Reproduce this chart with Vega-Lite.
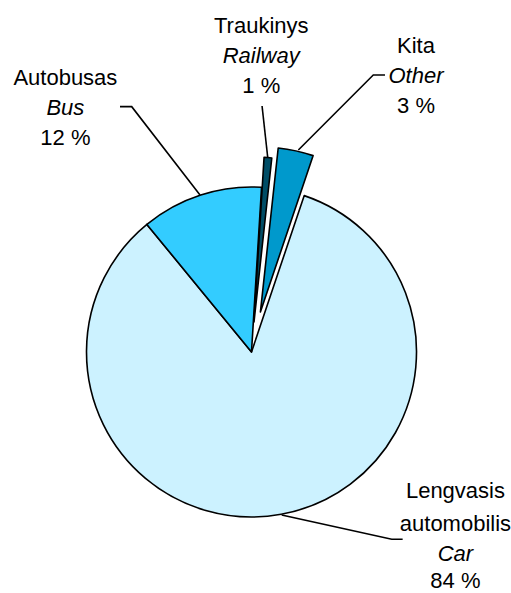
{
  "$schema": "https://vega.github.io/schema/vega-lite/v6.json",
  "width": 503,
  "height": 482,
  "padding": {"left": 0, "top": 111, "right": 8, "bottom": 0},
  "autosize": {"type": "none"},
  "background": "white",
  "config": {"view": {"stroke": null}},
  "datasets": {
    "shares": [
      {"order": 1, "category": "Railway", "share": 0.75},
      {"order": 2, "category": "Other", "share": 3.45},
      {"order": 3, "category": "Car", "share": 83.9},
      {"order": 4, "category": "Bus", "share": 11.9}
    ],
    "labels": [
      {"category": "Railway", "ltTop": "", "lt": "Traukinys", "en": "Railway", "pct": "1 %", "lx": 0.059, "ly": 1.792},
      {"category": "Other", "ltTop": "", "lt": "Kita", "en": "Other", "pct": "3 %", "lx": 0.997, "ly": 1.671},
      {"category": "Bus", "ltTop": "", "lt": "Autobusas", "en": "Bus", "pct": "12 %", "lx": -1.128, "ly": 1.477},
      {"category": "Car", "ltTop": "Lengvasis", "lt": "automobilis", "en": "Car", "pct": "84 %", "lx": 1.236, "ly": -1.227}
    ],
    "leaders": [
      {"category": "Railway", "step": 1, "ux": 0.064, "uy": 1.491},
      {"category": "Railway", "step": 2, "ux": 0.098, "uy": 1.182},
      {"category": "Other", "step": 1, "ux": 0.809, "uy": 1.679},
      {"category": "Other", "step": 2, "ux": 0.738, "uy": 1.679},
      {"category": "Other", "step": 3, "ux": 0.284, "uy": 1.224},
      {"category": "Bus", "step": 1, "ux": -0.797, "uy": 1.487},
      {"category": "Bus", "step": 2, "ux": -0.726, "uy": 1.487},
      {"category": "Bus", "step": 3, "ux": -0.312, "uy": 0.952},
      {"category": "Car", "step": 1, "ux": 0.916, "uy": -1.135},
      {"category": "Car", "step": 2, "ux": 0.850, "uy": -1.135},
      {"category": "Car", "step": 3, "ux": 0.183, "uy": -0.988}
    ]
  },
  "layer": [
    {
      "data": {"name": "shares"},
      "mark": {"type": "arc", "outerRadius": 165, "stroke": "black", "strokeWidth": 1.6, "strokeJoin": "round"},
      "encoding": {
        "theta": {"field": "share", "type": "quantitative", "stack": true, "scale": {"range": [0.061, 6.3442]}},
        "order": {"field": "order", "type": "quantitative"},
        "color": {"field": "category", "type": "nominal", "legend": null,
          "scale": {"domain": ["Railway", "Other", "Car", "Bus"], "range": ["#004D66", "#0099CC", "#CCF2FF", "#33CCFF"]}},
        "fillOpacity": {"condition": {"test": "datum.category === 'Railway' || datum.category === 'Other'", "value": 0}, "value": 1},
        "strokeOpacity": {"condition": {"test": "datum.category === 'Railway' || datum.category === 'Other'", "value": 0}, "value": 1}
      }
    },
    {
      "data": {"name": "shares"},
      "mark": {"type": "arc", "outerRadius": 165, "stroke": "black", "strokeWidth": 1.6, "strokeJoin": "round", "xOffset": 8.9, "yOffset": -40},
      "encoding": {
        "theta": {"field": "share", "type": "quantitative", "stack": true, "scale": {"range": [0.061, 6.3442]}},
        "order": {"field": "order", "type": "quantitative"},
        "color": {"field": "category", "type": "nominal", "legend": null,
          "scale": {"domain": ["Railway", "Other", "Car", "Bus"], "range": ["#004D66", "#0099CC", "#CCF2FF", "#33CCFF"]}},
        "fillOpacity": {"condition": {"test": "datum.category === 'Other'", "value": 1}, "value": 0},
        "strokeOpacity": {"condition": {"test": "datum.category === 'Other'", "value": 1}, "value": 0}
      }
    },
    {
      "data": {"name": "shares"},
      "mark": {"type": "arc", "outerRadius": 165, "stroke": "black", "strokeWidth": 1.6, "strokeJoin": "round", "xOffset": 2.5, "yOffset": -30},
      "encoding": {
        "theta": {"field": "share", "type": "quantitative", "stack": true, "scale": {"range": [0.061, 6.3442]}},
        "order": {"field": "order", "type": "quantitative"},
        "color": {"field": "category", "type": "nominal", "legend": null,
          "scale": {"domain": ["Railway", "Other", "Car", "Bus"], "range": ["#004D66", "#0099CC", "#CCF2FF", "#33CCFF"]}},
        "fillOpacity": {"condition": {"test": "datum.category === 'Railway'", "value": 1}, "value": 0},
        "strokeOpacity": {"condition": {"test": "datum.category === 'Railway'", "value": 1}, "value": 0}
      }
    },
    {
      "data": {"name": "leaders"},
      "mark": {"type": "line", "color": "black", "strokeWidth": 1.6},
      "encoding": {
        "x": {"field": "ux", "type": "quantitative", "scale": {"domain": [-1.5242, 1.5242]}, "axis": null},
        "y": {"field": "uy", "type": "quantitative", "scale": {"domain": [-1.4606, 1.4606]}, "axis": null},
        "detail": {"field": "category"},
        "order": {"field": "step", "type": "quantitative"}
      }
    },
    {
      "data": {"name": "labels"},
      "mark": {"type": "text", "font": "Liberation Sans", "baseline": "middle", "dy": -63, "color": "black"},
      "encoding": {
        "x": {"field": "lx", "type": "quantitative", "scale": {"domain": [-1.5242, 1.5242]}, "axis": null},
        "y": {"field": "ly", "type": "quantitative", "scale": {"domain": [-1.4606, 1.4606]}, "axis": null},
        "size": {"field": "category", "type": "nominal", "legend": null, "scale": {"domain": ["Railway", "Other", "Bus", "Car"], "range": [22, 22, 22, 20]}},
        "text": {"field": "ltTop"}
      }
    },
    {
      "data": {"name": "labels"},
      "mark": {"type": "text", "font": "Liberation Sans", "baseline": "middle", "dy": -30, "color": "black"},
      "encoding": {
        "x": {"field": "lx", "type": "quantitative", "scale": {"domain": [-1.5242, 1.5242]}, "axis": null},
        "y": {"field": "ly", "type": "quantitative", "scale": {"domain": [-1.4606, 1.4606]}, "axis": null},
        "size": {"field": "category", "type": "nominal", "legend": null, "scale": {"domain": ["Railway", "Other", "Bus", "Car"], "range": [22, 22, 22, 20]}},
        "text": {"field": "lt"}
      }
    },
    {
      "data": {"name": "labels"},
      "mark": {"type": "text", "font": "Liberation Sans", "fontStyle": "italic", "fontSize": 22, "baseline": "middle", "color": "black"},
      "encoding": {
        "x": {"field": "lx", "type": "quantitative", "scale": {"domain": [-1.5242, 1.5242]}, "axis": null},
        "y": {"field": "ly", "type": "quantitative", "scale": {"domain": [-1.4606, 1.4606]}, "axis": null},
        "text": {"field": "en"}
      }
    },
    {
      "data": {"name": "labels"},
      "transform": [{"filter": "datum.category !== 'Car'"}],
      "mark": {"type": "text", "font": "Liberation Sans", "fontSize": 22, "baseline": "middle", "dy": 30, "color": "black"},
      "encoding": {
        "x": {"field": "lx", "type": "quantitative", "scale": {"domain": [-1.5242, 1.5242]}, "axis": null},
        "y": {"field": "ly", "type": "quantitative", "scale": {"domain": [-1.4606, 1.4606]}, "axis": null},
        "text": {"field": "pct"}
      }
    },
    {
      "data": {"name": "labels"},
      "transform": [{"filter": "datum.category === 'Car'"}],
      "mark": {"type": "text", "font": "Liberation Sans", "fontSize": 22, "baseline": "middle", "dy": 27, "color": "black"},
      "encoding": {
        "x": {"field": "lx", "type": "quantitative", "scale": {"domain": [-1.5242, 1.5242]}, "axis": null},
        "y": {"field": "ly", "type": "quantitative", "scale": {"domain": [-1.4606, 1.4606]}, "axis": null},
        "text": {"field": "pct"}
      }
    }
  ]
}
